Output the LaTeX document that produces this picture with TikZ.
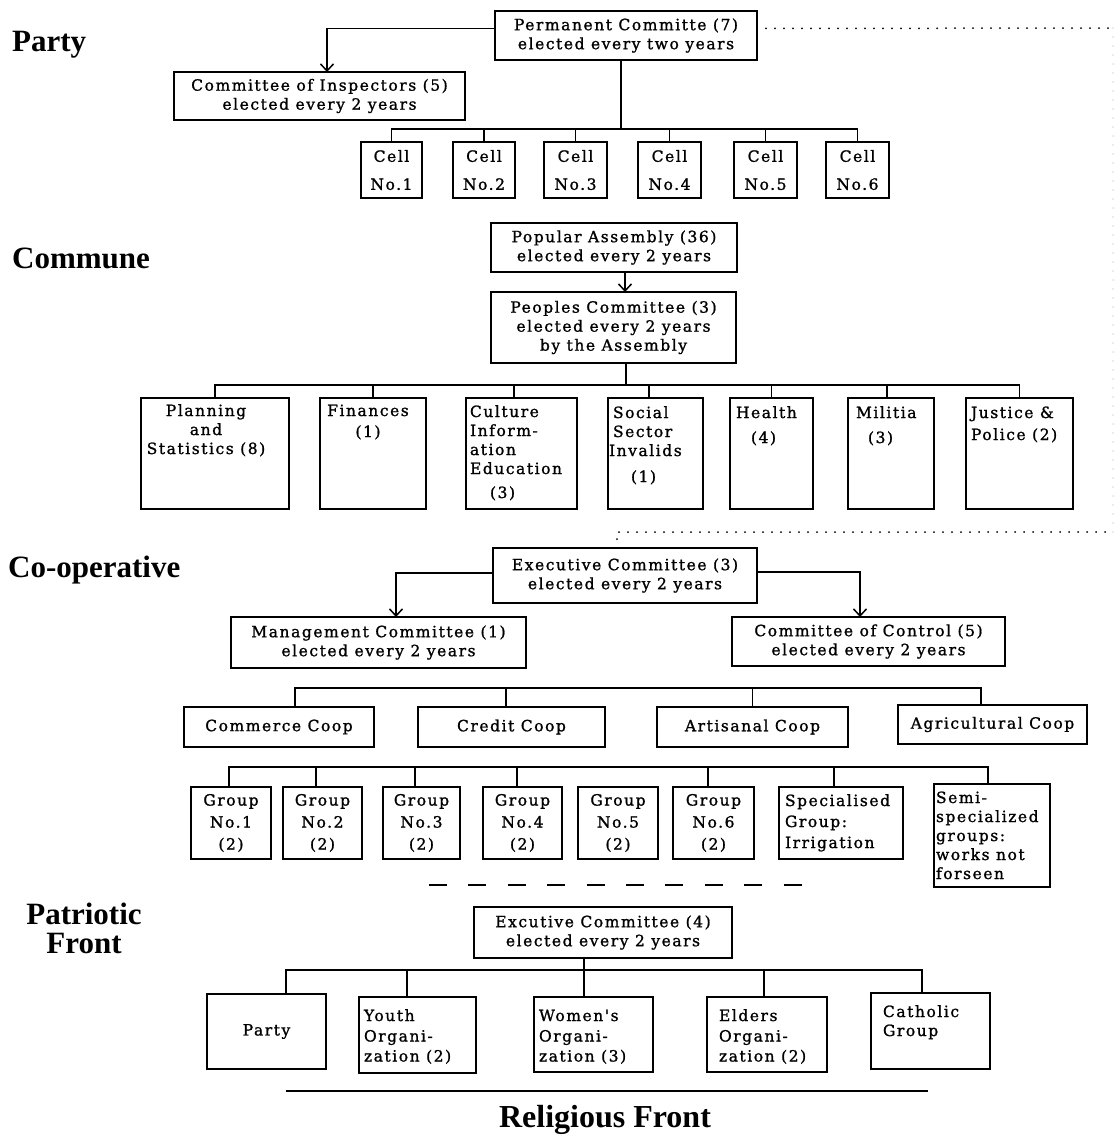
\documentclass[tikz,border=0pt]{standalone}
\usepackage{fontspec}
\usetikzlibrary{arrows.meta,calc}
\newfontfamily\boxfont[LetterSpace=10,FakeBold=1.2]{DejaVu Serif}
\newfontfamily\headfont{Liberation Serif}
% fixes the height of the first line so text can be placed by its top
\newcommand\fl{\rule{0pt}{12pt}}

\tikzset{
  orgbox/.style={draw, line width=1.7pt, inner sep=0pt, outer sep=0pt, align=center,
    font={\boxfont\fontsize{15.5}{19}\selectfont}},
  tx/.style={inner sep=0pt, outer sep=0pt, align=left, anchor=north west,
    font={\boxfont\fontsize{15.5}{19}\selectfont}},
  link/.style={line width=1.7pt},
  arr/.style={line width=1.7pt, -{Straight Barb[length=7pt,width=13pt,line width=1.5pt]}},
  dotline/.style={line width=2pt, line cap=round, dash pattern=on 0pt off 9pt},
  head/.style={inner sep=0pt, font={\headfont\bfseries\fontsize{31}{36}\selectfont}},
}

% box given by its corners (x1,y1) and (x2,y2), y growing downwards
\newcommand\obox[6]{%
  \pgfmathsetmacro\bw{#4-#2}\pgfmathsetmacro\bh{#5-#3}%
  \node[orgbox, minimum width=\bw pt, minimum height=\bh pt] (#1) at ({(#2+#4)/2},{(#3+#5)/2}) {#6};}

\begin{document}
\begin{tikzpicture}[x=1pt,y=-1pt]
\useasboundingbox (0,0) rectangle (1115,1136);
\fill[white] (0,0) rectangle (1115,1136);

% ---------------- headings
\node[head, anchor=base west] (hparty) at (12,51) {Party};
\node[head, anchor=base west] (hcomm) at (12,268) {Commune};
\node[head, anchor=base west] (hcoop) at (8,577) {Co-operative};
\node[head, anchor=base] (hpat1) at (84,924) {Patriotic};
\node[head, anchor=base] (hpat2) at (84,953) {Front};
\node[head, font={\headfont\bfseries\fontsize{32}{38}\selectfont}, anchor=base] (hrel) at (605,1127) {Religious Front};

% ---------------- Party
\obox{perm}{495}{11}{757}{60}{Permanent Committe (7)\\elected every two years}
\obox{insp}{174}{72}{465}{120}{Committee of Inspectors (5)\\elected every 2 years}
\obox{c1}{361}{142}{422}{198}{Cell\\[9pt]No.1}
\obox{c2}{453}{142}{515}{198}{Cell\\[9pt]No.2}
\obox{c3}{544}{142}{607}{198}{Cell\\[9pt]No.3}
\obox{c4}{638}{142}{701}{198}{Cell\\[9pt]No.4}
\obox{c5}{734}{142}{797}{198}{Cell\\[9pt]No.5}
\obox{c6}{826}{142}{889}{198}{Cell\\[9pt]No.6}

\coordinate (edge1) at (1113,28);
\coordinate (edge2) at (1113,532);
\coordinate (pb) at (0,129);

\draw[arr] ([yshift=7pt]perm.west) -| ([xshift=7.5pt]insp.north);
\draw[dotline] ([yshift=7pt]perm.east) -- (edge1);
\draw[dotline, gray!25] (edge1) -- (edge2);
\draw[link] ([xshift=-5pt]perm.south) -- ([xshift=-5pt]perm.south |- pb);
\draw[link] (c1.north) |- (c6.north |- pb) -- (c6.north);
\foreach \n in {c2,c3,c4,c5} \draw[link] (\n.north) -- (\n.north |- pb);

% ---------------- Commune
\obox{pop}{491}{223}{737}{272}{Popular Assembly (36)\\elected every 2 years}
\obox{peo}{491}{292}{736}{363}{Peoples Committee (3)\\elected every 2 years\\by the Assembly}
\obox{plan}{141}{398}{289}{509}{}
\obox{fin}{320}{398}{426}{509}{}
\obox{cul}{466}{398}{577}{509}{}
\obox{soc}{608}{398}{703}{509}{}
\obox{hea}{730}{398}{813}{509}{}
\obox{mil}{848}{398}{934}{509}{}
\obox{jus}{966}{398}{1073}{509}{}

\node[tx, align=center, anchor=north] (plan-t) at (206,404) {\fl Planning\\and\\Statistics (8)};
\node[tx, align=center, anchor=north] (fin-t) at (368,404) {\fl Finances\\[2pt](1)};
\node[tx] (cul-t) at (470,405) {\fl Culture\\Inform-\\ation\\Education\\[5pt]\hspace{20pt}(3)};
\node[tx] (soc-t) at (613,406) {\fl Social\\Sector\\\hspace{-4pt}Invalids\\[7pt]\hspace{18pt}(1)};
\node[tx] (hea-t) at (736,406) {\fl Health\\[6pt]\hspace{15pt}(4)};
\node[tx] (mil-t) at (856,406) {\fl Militia\\[6pt]\hspace{12pt}(3)};
\node[tx] (jus-t) at (971,406) {\fl Justice \&\\[3pt]Police (2)};

\coordinate (cb) at (0,385);
\draw[arr] ([xshift=11pt]pop.south) -- ([xshift=11pt]pop.south |- peo.north);
\draw[link] ([xshift=12.5pt]peo.south) -- ([xshift=12.5pt]peo.south |- cb);
\draw[link] (plan.north) |- (jus.north |- cb) -- (jus.north);
\draw[link] (fin.north) -- (fin.north |- cb);
\draw[link] ([xshift=-7.5pt]cul.north) -- ([xshift=-7.5pt]cul.north |- cb);
\draw[link] ([xshift=-6.5pt]soc.north) -- ([xshift=-6.5pt]soc.north |- cb);
\draw[link] (hea.north) -- (hea.north |- cb);
\draw[link] ([xshift=-4pt]mil.north) -- ([xshift=-4pt]mil.north |- cb);

% ---------------- Co-operative
\obox{ex3}{493}{548}{757}{603}{Executive Committee (3)\\elected every 2 years}
\obox{mgmt}{231}{617}{526}{668}{Management Committee (1)\\elected every 2 years}
\obox{ctrl}{732}{617}{1005}{666}{Committee of Control (5)\\elected every 2 years}
\obox{com}{184}{707}{374}{747}{Commerce Coop}
\obox{cre}{418}{707}{605}{747}{Credit Coop}
\obox{art}{657}{707}{848}{747}{Artisanal Coop}
\obox{agr}{898}{705}{1087}{744}{Agricultural Coop}

\draw[dotline] ([xshift=-8pt]ex3.north) -- ++(0,-16) -- (edge2);
\draw[arr] ([yshift=2.5pt]ex3.west) -| ([xshift=17.5pt]mgmt.north);
\draw[arr] ([yshift=3.5pt]ex3.east) -| ([xshift=-8.5pt]ctrl.north);

\coordinate (ob) at (0,688);
\draw[link] ([xshift=16pt]com.north) |- ([xshift=-11.5pt]agr.north |- ob) -- ([xshift=-11.5pt]agr.north);
\draw[link] ([xshift=-5.5pt]cre.north) -- ([xshift=-5.5pt]cre.north |- ob);
\draw[link] (art.north) -- (art.north |- ob);

\obox{g1}{191}{787}{271}{859}{Group\\[3pt]No.1\\[3pt](2)}
\obox{g2}{283}{787}{362}{859}{Group\\[3pt]No.2\\[3pt](2)}
\obox{g3}{383}{787}{460}{859}{Group\\[3pt]No.3\\[3pt](2)}
\obox{g4}{483}{787}{562}{859}{Group\\[3pt]No.4\\[3pt](2)}
\obox{g5}{578}{787}{658}{859}{Group\\[3pt]No.5\\[3pt](2)}
\obox{g6}{673}{787}{754}{859}{Group\\[3pt]No.6\\[3pt](2)}
\obox{spec}{779}{787}{903}{859}{}
\obox{semi}{934}{784}{1050}{887}{}
\node[tx] (spec-t) at (785,794) {\fl Specialised\\[2pt]Group:\\[2pt]Irrigation};
\node[tx] (semi-t) at (936,791) {\fl Semi-\\specialized\\groups:\\works not\\forseen};

\coordinate (gb) at (0,767);
\draw[link] ([xshift=-2pt]g1.north) |- ([xshift=-4pt]semi.north |- gb) -- ([xshift=-4pt]semi.north);
\draw[link] ([xshift=-6.5pt]g2.north) -- ([xshift=-6.5pt]g2.north |- gb);
\draw[link] ([xshift=-6.5pt]g3.north) -- ([xshift=-6.5pt]g3.north |- gb);
\draw[link] ([xshift=-5.5pt]g4.north) -- ([xshift=-5.5pt]g4.north |- gb);
\draw[link] ([xshift=-5.5pt]g6.north) -- ([xshift=-5.5pt]g6.north |- gb);
\draw[link] ([xshift=-7pt]spec.north) -- ([xshift=-7pt]spec.north |- gb);

\draw[line width=2pt, dash pattern=on 18pt off 21.4pt] (429,885) -- (802,885);

% ---------------- Patriotic Front
\obox{ex4}{474}{907}{732}{958}{Excutive Committee (4)\\elected every 2 years}
\obox{pty}{207}{994}{326}{1069}{Party}
\obox{you}{359}{997}{476}{1073}{}
\obox{wom}{534}{997}{653}{1072}{}
\obox{eld}{707}{997}{827}{1072}{}
\obox{cat}{871}{993}{990}{1069}{}
\node[tx] (you-t) at (364,1009) {\fl Youth\\[1.5pt]Organi-\\[1pt]zation (2)};
\node[tx] (wom-t) at (539,1009) {\fl Women's\\[1.5pt]Organi-\\[1pt]zation (3)};
\node[tx] (eld-t) at (719,1009) {\fl Elders\\[1.5pt]Organi-\\[1pt]zation (2)};
\node[tx] (cat-t) at (883,1005) {\fl Catholic\\Group};

\coordinate (fb) at (0,970);
\draw[link] ([xshift=-19pt]ex4.south) -- ([xshift=-19pt]ex4.south |- wom.north);
\draw[link] ([xshift=19.5pt]pty.north) |- ([xshift=-8.5pt]cat.north |- fb) -- ([xshift=-8.5pt]cat.north);
\draw[link] ([xshift=-10.5pt]you.north) -- ([xshift=-10.5pt]you.north |- fb);
\draw[link] ([xshift=-3pt]eld.north) -- ([xshift=-3pt]eld.north |- fb);

\draw[line width=1.7pt] (286,1091) -- (928,1091);
\end{tikzpicture}
\end{document}
